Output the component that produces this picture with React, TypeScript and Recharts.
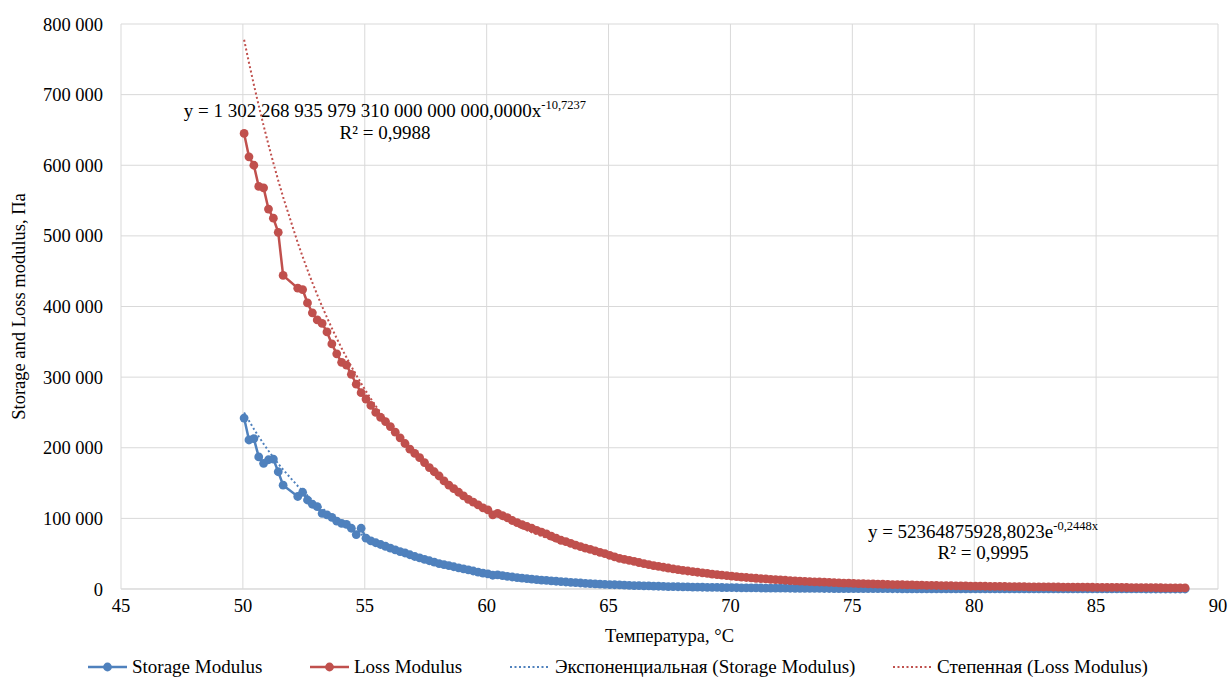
import { LineChart, Line, XAxis, YAxis, CartesianGrid } from "recharts"

const temperatures = [
  50.05, 50.25, 50.45, 50.65, 50.85,
  51.05, 51.25, 51.45, 51.65,
  52.25, 52.45, 52.65, 52.85,
  53.05, 53.25, 53.45, 53.65, 53.85,
  54.05, 54.25, 54.45, 54.65, 54.85,
  55.05, 55.25, 55.45, 55.65, 55.85,
  56.05, 56.25, 56.45, 56.65, 56.85,
  57.05, 57.25, 57.45, 57.65, 57.85,
  58.05, 58.25, 58.45, 58.65, 58.85,
  59.05, 59.25, 59.45, 59.65, 59.85,
  60.05, 60.25, 60.45, 60.65, 60.85,
  61.05, 61.25, 61.45, 61.65, 61.85,
  62.05, 62.25, 62.45, 62.65, 62.85,
  63.05, 63.25, 63.45, 63.65, 63.85,
  64.05, 64.25, 64.45, 64.65, 64.85,
  65.05, 65.25, 65.45, 65.65, 65.85,
  66.05, 66.25, 66.45, 66.65, 66.85,
  67.05, 67.25, 67.45, 67.65, 67.85,
  68.05, 68.25, 68.45, 68.65, 68.85,
  69.05, 69.25, 69.45, 69.65, 69.85,
  70.05, 70.25, 70.45, 70.65, 70.85,
  71.05, 71.25, 71.45, 71.65, 71.85,
  72.05, 72.25, 72.45, 72.65, 72.85,
  73.05, 73.25, 73.45, 73.65, 73.85,
  74.05, 74.25, 74.45, 74.65, 74.85,
  75.05, 75.25, 75.45, 75.65, 75.85,
  76.05, 76.25, 76.45, 76.65, 76.85,
  77.05, 77.25, 77.45, 77.65, 77.85,
  78.05, 78.25, 78.45, 78.65, 78.85,
  79.05, 79.25, 79.45, 79.65, 79.85,
  80.05, 80.25, 80.45, 80.65, 80.85,
  81.05, 81.25, 81.45, 81.65, 81.85,
  82.05, 82.25, 82.45, 82.65, 82.85,
  83.05, 83.25, 83.45, 83.65, 83.85,
  84.05, 84.25, 84.45, 84.65, 84.85,
  85.05, 85.25, 85.45, 85.65, 85.85,
  86.05, 86.25, 86.45, 86.65, 86.85,
  87.05, 87.25, 87.45, 87.65, 87.85,
  88.05, 88.25, 88.45, 88.65,
]

// Storage Modulus, Па
const storageModulus = [
  242000, 211000, 213000, 187000, 178000,
  183000, 184000, 166000, 147000,
  131000, 137000, 126000, 120000,
  116500, 107000, 105000, 101500, 96000,
  93000, 91500, 86000, 77000, 86000,
  72000, 68000, 65500, 63000, 60500,
  58000, 55500, 53000, 51000, 48500,
  46000, 44000, 42000, 40000, 38000,
  36000, 34500, 33000, 31500, 30000,
  28500, 27000, 25500, 24000, 22500,
  21500, 19500, 20000, 19000, 18000,
  17000, 16200, 15400, 14700, 14000,
  13300, 12700, 12100, 11500, 11000,
  10400, 9900, 9400, 9000, 8500,
  8100, 7700, 7300, 7000, 6600,
  6300, 6000, 5700, 5400, 5200,
  4900, 4700, 4500, 4300, 4100,
  3900, 3700, 3500, 3350, 3200,
  3050, 2900, 2750, 2600, 2500,
  2400, 2300, 2200, 2100, 2000,
  1900, 1800, 1700, 1620, 1550,
  1480, 1410, 1340, 1280, 1220,
  1160, 1100, 1050, 1000, 950,
  900, 860, 820, 780, 740,
  700, 670, 640, 610, 580,
  550, 520, 500, 470, 450,
  430, 410, 390, 370, 350,
  330, 310, 300, 280, 270,
  250, 240, 230, 220, 210,
  200, 190, 180, 170, 165,
  160, 150, 145, 140, 130,
  125, 120, 115, 110, 105,
  100, 95, 90, 85, 80,
  78, 75, 72, 70, 67,
  65, 62, 60, 58, 55,
  53, 51, 49, 47, 45,
  43, 41, 40, 38, 37,
  35, 34, 32, 31, 30,
  29, 28, 27, 26,
]

// Loss Modulus, Па
const lossModulus = [
  645000, 612000, 600000, 570000, 568000,
  538000, 525000, 505000, 444000,
  426000, 424000, 405000, 391000,
  381000, 376000, 364000, 347000, 333000,
  321000, 317000, 304000, 290000, 278000,
  269000, 260000, 250000, 243000, 237000,
  230000, 222000, 214000, 206000, 198000,
  192000, 186000, 179000, 172000, 166000,
  160000, 153000, 147000, 142000, 137000,
  132000, 127000, 123000, 119000, 115000,
  112000, 105000, 107000, 104000, 101000,
  97000, 94000, 91000, 88500, 86000,
  83000, 80500, 78000, 75000, 72000,
  69000, 67000, 64500, 62000, 60000,
  58000, 56000, 54000, 52000, 50000,
  47500, 45500, 43500, 42000, 40500,
  39000, 37500, 36000, 34500, 33000,
  32000, 30800, 29700, 28600, 27500,
  26500, 25500, 24600, 23700, 22800,
  22000, 21200, 20400, 19600, 18900,
  18200, 17500, 16900, 16300, 15700,
  15200, 14700, 14200, 13700, 13200,
  12800, 12400, 12000, 11600, 11200,
  10800, 10500, 10200, 9900, 9600,
  9300, 9000, 8700, 8400, 8200,
  7900, 7700, 7500, 7300, 7100,
  6900, 6700, 6500, 6300, 6150,
  6000, 5850, 5700, 5550, 5400,
  5250, 5100, 4950, 4800, 4700,
  4600, 4500, 4400, 4300, 4200,
  4100, 4000, 3900, 3800, 3700,
  3600, 3550, 3450, 3400, 3300,
  3250, 3150, 3100, 3000, 2950,
  2900, 2850, 2800, 2750, 2700,
  2650, 2600, 2550, 2500, 2450,
  2400, 2350, 2300, 2250, 2200,
  2150, 2100, 2050, 2000, 1950,
  1900, 1850, 1800, 1750, 1700,
  1650, 1600, 1550, 1500,
]

// trendline equations as printed on the chart
const expTrend = { a: 52364875928.8023, b: -0.2448 }
const powTrend = { a: 1.30226893597931e24, b: -10.7237 }

const xTicks = [45, 50, 55, 60, 65, 70, 75, 80, 85, 90]
const yTicks = [0, 100000, 200000, 300000, 400000, 500000, 600000, 700000, 800000]

const BLUE = "#4f81bd"
const RED = "#c0504d"
const FONT = "'Liberation Serif', 'Times New Roman', serif"
const FS = 18.5

const data = temperatures.map((t, i) => ({
  t,
  storage: storageModulus[i],
  loss: lossModulus[i],
  storageFit: expTrend.a * Math.exp(expTrend.b * t),
  lossFit: powTrend.a * Math.pow(t, powTrend.b),
}))

const fmt = (v: number) => String(v).replace(/\B(?=(\d{3})+(?!\d))/g, " ")

const tickStyle = { fontFamily: FONT, fontSize: FS, fill: "#000" }

export default function App() {
  return (
    <div style={{ position: "relative", width: 1229, height: 677, background: "#fff" }}>
      <style>{"body{margin:0}"}</style>
      <LineChart width={1229} height={677} data={data} margin={{ top: 24, right: 11, left: 0, bottom: 28 }}>
        <CartesianGrid stroke="#d9d9d9" />
        <XAxis
          type="number"
          dataKey="t"
          domain={[45, 90]}
          ticks={xTicks}
          height={60}
          tickLine={false}
          axisLine={{ stroke: "#d9d9d9" }}
          tickMargin={4}
          tick={tickStyle}
          label={{ value: "Температура, °C", position: "insideBottom", offset: 7, style: { fontFamily: FONT, fontSize: FS, fill: "#000" } }}
        />
        <YAxis
          type="number"
          domain={[0, 800000]}
          ticks={yTicks}
          width={121}
          tickLine={false}
          axisLine={false}
          tickMargin={12}
          tick={tickStyle}
          tickFormatter={fmt}
          label={{
            value: "Storage and Loss modulus, Па",
            angle: -90,
            position: "insideLeft",
            offset: 18,
            style: { textAnchor: "middle", fontFamily: FONT, fontSize: FS, fill: "#000" },
          }}
        />
        <Line dataKey="storageFit" stroke={BLUE} strokeWidth={2} strokeDasharray="2 2.5" dot={false} isAnimationActive={false} />
        <Line dataKey="lossFit" stroke={RED} strokeWidth={2} strokeDasharray="2 2.5" dot={false} isAnimationActive={false} />
        <Line dataKey="storage" stroke={BLUE} strokeWidth={2.5} dot={{ r: 4.4, fill: BLUE, stroke: "none" }} isAnimationActive={false} />
        <Line dataKey="loss" stroke={RED} strokeWidth={2.5} dot={{ r: 4.4, fill: RED, stroke: "none" }} isAnimationActive={false} />
      </LineChart>
      <svg
        width={1229}
        height={677}
        style={{ position: "absolute", left: 0, top: 0, pointerEvents: "none" }}
        fontFamily={FONT}
        fontSize={19}
        fill="#000"
      >
        <text x={385} y={117} textAnchor="middle">
          y = 1 302 268 935 979 310 000 000 000,0000x
          <tspan fontSize={12.5} dy={-8}>-10,7237</tspan>
        </text>
        <text x={385} y={139} textAnchor="middle">R² = 0,9988</text>
        <text x={983} y={538} textAnchor="middle">
          y = 52364875928,8023e
          <tspan fontSize={12.5} dy={-8}>-0,2448x</tspan>
        </text>
        <text x={983} y={559} textAnchor="middle">R² = 0,9995</text>

        <g>
          <line x1={88} x2={127} y1={667} y2={667} stroke={BLUE} strokeWidth={2.5} />
          <circle cx={107.5} cy={667} r={4.4} fill={BLUE} />
          <text x={132} y={673}>Storage Modulus</text>
          <line x1={310} x2={349} y1={667} y2={667} stroke={RED} strokeWidth={2.5} />
          <circle cx={329.5} cy={667} r={4.4} fill={RED} />
          <text x={354} y={673}>Loss Modulus</text>
          <line x1={510} x2={549} y1={667} y2={667} stroke={BLUE} strokeWidth={2} strokeDasharray="2 2.5" />
          <text x={555} y={673}>Экспоненциальная (Storage Modulus)</text>
          <line x1={893} x2={932} y1={667} y2={667} stroke={RED} strokeWidth={2} strokeDasharray="2 2.5" />
          <text x={937} y={673}>Степенная (Loss Modulus)</text>
        </g>
      </svg>
    </div>
  )
}
